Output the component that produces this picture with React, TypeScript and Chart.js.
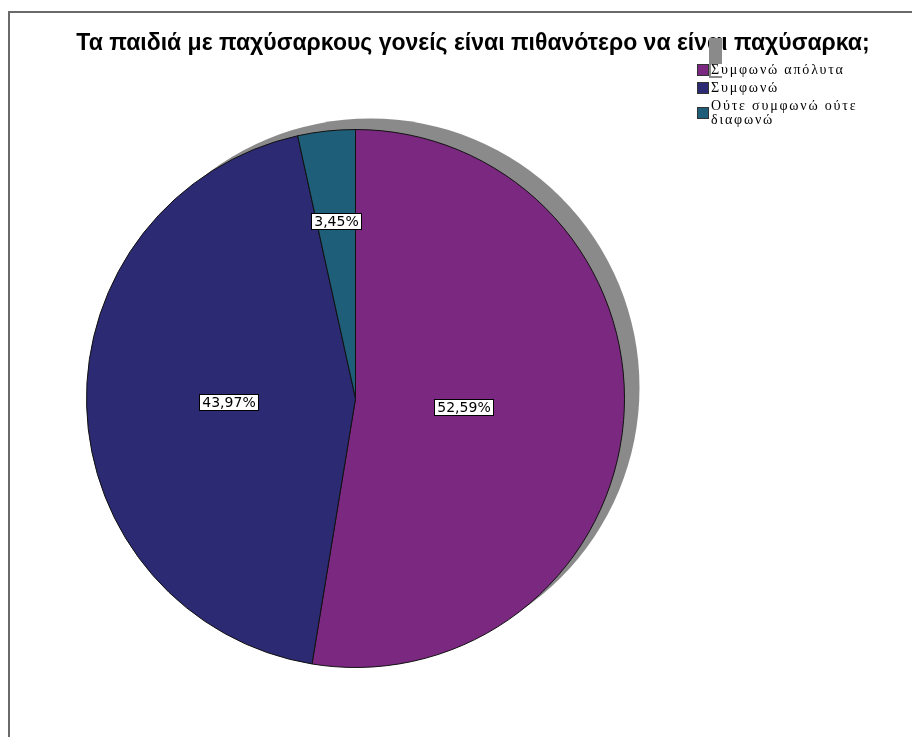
import React, { useEffect, useRef } from "react";
import { Chart, registerables } from "chart.js";

Chart.register(...registerables);

const TITLE = "Τα παιδιά με παχύσαρκους γονείς είναι πιθανότερο να είναι παχύσαρκα;";
const categories = ["Συμφωνώ απόλυτα", "Συμφωνώ", "Ούτε συμφωνώ ούτε διαφωνώ"];
const percentages = [52.59, 43.97, 3.45];
const colors = ["#7b2880", "#2b2a73", "#1e5e78"];

const W = 912;
const H = 737;

function wrap(ctx: CanvasRenderingContext2D, text: string, maxW: number): string[] {
  const words = text.split(" ");
  const lines: string[] = [];
  let cur = "";
  for (const w of words) {
    const t = cur ? cur + " " + w : w;
    if (ctx.measureText(t).width > maxW && cur) {
      lines.push(cur);
      cur = w;
    } else cur = t;
  }
  if (cur) lines.push(cur);
  return lines;
}

const decorPlugin = {
  id: "decor",
  beforeDraw(chart: any) {
    const ctx = chart.ctx as CanvasRenderingContext2D;
    ctx.save();
    ctx.fillStyle = "#ffffff";
    ctx.fillRect(0, 0, W, H);
    // frame
    ctx.strokeStyle = "#6a6a6a";
    ctx.lineWidth = 2;
    ctx.beginPath();
    ctx.moveTo(9, H);
    ctx.lineTo(9, 12);
    ctx.lineTo(W, 12);
    ctx.stroke();
    // title
    ctx.fillStyle = "#000000";
    ctx.font = "bold 23px 'Liberation Sans', Arial, sans-serif";
    ctx.textAlign = "center";
    ctx.textBaseline = "alphabetic";
    ctx.fillText(TITLE, 473, 50);
    ctx.restore();
  },
  beforeDatasetsDraw(chart: any) {
    const ctx = chart.ctx as CanvasRenderingContext2D;
    const arc = chart.getDatasetMeta(0).data[0];
    if (!arc) return;
    const { x, y, outerRadius } = arc.getProps(["x", "y", "outerRadius"], true);
    ctx.save();
    ctx.fillStyle = "#8a8a8a";
    ctx.beginPath();
    ctx.arc(x + 15, y - 11, outerRadius, 0, Math.PI * 2);
    ctx.fill();
    ctx.restore();
  },
  afterDatasetsDraw(chart: any) {
    const ctx = chart.ctx as CanvasRenderingContext2D;
    const meta = chart.getDatasetMeta(0);
    ctx.save();
    ctx.font = "14px 'DejaVu Sans', sans-serif";
    ctx.textAlign = "center";
    ctx.textBaseline = "middle";
    meta.data.forEach((el: any, i: number) => {
      const { x, y, startAngle, endAngle, outerRadius } = el.getProps(
        ["x", "y", "startAngle", "endAngle", "outerRadius"],
        true
      );
      const a = (endAngle - startAngle) / 2;
      const mid = startAngle + a;
      const d = (2 * outerRadius * Math.sin(a)) / (3 * a);
      const lx = x + d * Math.cos(mid);
      const ly = y + d * Math.sin(mid);
      const txt = percentages[i].toFixed(2).replace(".", ",") + "%";
      const tw = ctx.measureText(txt).width;
      const bw = Math.round(tw + 6);
      const bh = 16;
      const bx = Math.round(lx - bw / 2) + 0.5;
      const by = Math.round(ly - bh / 2) + 0.5;
      ctx.fillStyle = "#ffffff";
      ctx.fillRect(bx, by, bw, bh);
      ctx.strokeStyle = "#000000";
      ctx.lineWidth = 1;
      ctx.strokeRect(bx, by, bw, bh);
      ctx.fillStyle = "#000000";
      ctx.fillText(txt, bx + bw / 2, by + bh / 2 + 0.5);
    });
    ctx.restore();

    // legend
    ctx.save();
    ctx.fillStyle = "#8a8a8a";
    ctx.fillRect(709, 38, 13, 40);
    ctx.font = "14px 'Liberation Serif', 'DejaVu Serif', serif";
    (ctx as any).letterSpacing = "1.8px";
    ctx.textAlign = "left";
    ctx.textBaseline = "middle";
    let yTop = 63;
    const lh = 14;
    categories.forEach((c, i) => {
      const lines = wrap(ctx, c, 165);
      const hgt = lines.length * lh;
      ctx.fillStyle = "#ffffff";
      lines.forEach((ln, j) => {
        const w = ctx.measureText(ln).width;
        ctx.fillRect(711, yTop + j * lh + 1, w, lh - 2);
      });
      const cy = yTop + hgt / 2;
      ctx.fillStyle = colors[i];
      ctx.fillRect(697, Math.round(cy - 6), 12, 12);
      ctx.strokeStyle = "#333333";
      ctx.lineWidth = 1;
      ctx.strokeRect(697.5, Math.round(cy - 6) + 0.5, 11, 11);
      ctx.fillStyle = "#000000";
      lines.forEach((ln, j) => {
        ctx.fillText(ln, 711, yTop + j * lh + lh / 2);
      });
      yTop += hgt + 4;
    });
    ctx.restore();
  },
};

export default function App() {
  const ref = useRef<HTMLCanvasElement | null>(null);
  useEffect(() => {
    if (!ref.current) return;
    const chart = new Chart(ref.current, {
      type: "pie",
      data: {
        labels: categories,
        datasets: [
          {
            data: percentages,
            backgroundColor: colors,
            borderColor: "#111111",
            borderWidth: 1,
          },
        ],
      },
      options: {
        responsive: false,
        animation: false,
        devicePixelRatio: 1,
        layout: { padding: { left: 86, top: 129, right: 287, bottom: 69 } },
        plugins: {
          legend: { display: false },
          title: { display: false },
          tooltip: { enabled: false },
        },
      },
      plugins: [decorPlugin],
    });
    return () => chart.destroy();
  }, []);
  return (
    <div style={{ position: "absolute", left: 0, top: 0, width: W, height: H }}>
      <canvas ref={ref} width={W} height={H} style={{ display: "block", width: W, height: H }} />
    </div>
  );
}
